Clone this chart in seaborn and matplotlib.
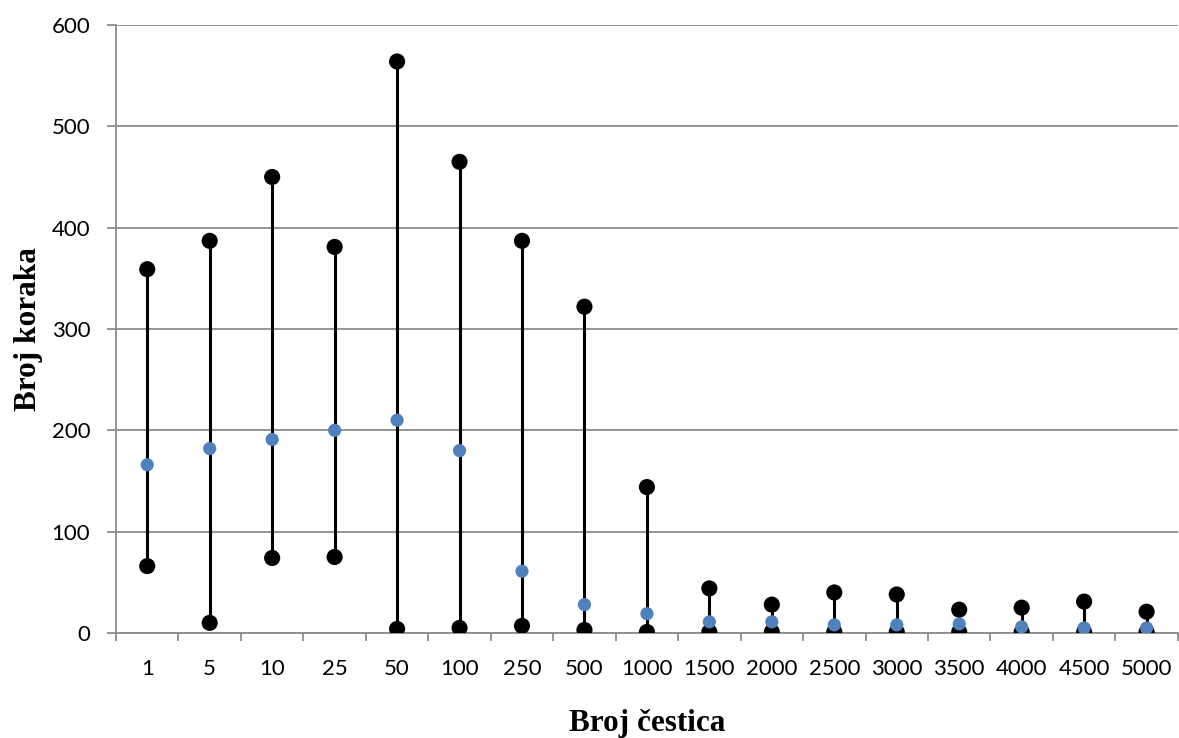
import numpy as np
import pandas as pd
import matplotlib
matplotlib.use("Agg")
import matplotlib.pyplot as plt
import seaborn as sns

categories = ["1", "5", "10", "25", "50", "100", "250", "500", "1000", "1500",
              "2000", "2500", "3000", "3500", "4000", "4500", "5000"]
max_vals = [359, 387, 450, 381, 564, 465, 387, 322, 144, 44, 28, 40, 38, 23, 25, 31, 21]
min_vals = [66, 10, 74, 75, 4, 5, 7, 3, 1, 1, 1, 1, 1, 1, 1, 1, 1]
avg_vals = [166, 182, 191, 200, 210, 180, 61, 28, 19, 11, 11, 8, 8, 9, 6, 5, 5]

sns.set_theme(style="white")
plt.rcParams['font.family'] = ['Lato', 'DejaVu Sans']

df = pd.DataFrame({"pos": np.arange(len(categories)), "cat": categories,
                   "max": max_vals, "min": min_vals, "avg": avg_vals})

fig = plt.figure(figsize=(11.79, 7.38), dpi=100)
ax = fig.add_axes([0.0984, 0.1423, 0.9006, 0.8238])

ax.vlines(df["pos"], df["min"], df["max"], color="black", linewidth=2.2, zorder=3)
sns.scatterplot(data=df, x="pos", y="max", ax=ax, color="black", s=135,
                edgecolor="none", zorder=4, legend=False)
sns.scatterplot(data=df, x="pos", y="min", ax=ax, color="black", s=135,
                edgecolor="none", zorder=4, legend=False)
sns.scatterplot(data=df, x="pos", y="avg", ax=ax, color="#4F81BD", s=90,
                edgecolor="none", zorder=5, legend=False)

ax.set_xlim(-0.5, len(categories) - 0.5)
ax.set_ylim(0, 600)
ax.set_yticks(np.arange(0, 601, 100))
ax.yaxis.grid(True, color="#8c8c8c", linewidth=1.3)
ax.set_axisbelow(True)

ax.set_xticks(df["pos"])
ax.set_xticklabels(categories, fontsize=16, color="black")
ax.set_xticks(np.arange(-0.5, len(categories), 1.0), minor=True)
ax.tick_params(axis="x", which="major", length=0, pad=19)
ax.tick_params(axis="x", which="minor", length=6, width=1.3, color="#8c8c8c", direction="out", bottom=True)
ax.tick_params(axis="y", which="major", length=6.5, width=1.3, color="#8c8c8c", direction="out", left=True, labelsize=16, labelcolor="black", pad=12)

for s in ["top", "right"]:
    ax.spines[s].set_visible(False)
for s in ["left", "bottom"]:
    ax.spines[s].set_color("#8c8c8c")
    ax.spines[s].set_linewidth(1.3)

ax.set_xlabel("Broj čestica", fontsize=22.5, fontweight="bold",
              family="Liberation Serif", color="black", labelpad=21)
ax.set_ylabel("Broj koraka", fontsize=22.5, fontweight="bold",
              family="Liberation Serif", color="black", labelpad=6)

fig.savefig("out.png", dpi=100)
